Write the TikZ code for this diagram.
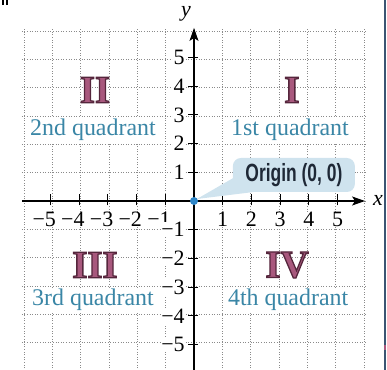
\documentclass[tikz,border=0pt]{standalone}
\usepackage{fontspec}
\usepackage{graphicx}
\setmainfont{Liberation Serif}
\newfontfamily\calloutfont{Liberation Sans}
\usetikzlibrary{arrows.meta,calc}
\definecolor{mauve}{HTML}{A8587D}
\definecolor{quadblue}{HTML}{3A86A6}
\definecolor{boxblue}{HTML}{CFE3EE}
\definecolor{dotblue}{HTML}{2E86C8}
\definecolor{edgeblue}{HTML}{3B5573}
\definecolor{gridgray}{HTML}{8A8A8A}
\definecolor{calloutink}{HTML}{1E2836}
\newcommand\romanout[1]{\special{pdf:literal direct 2 Tr 1.3 w 0.333 0.149 0.235 RG}#1\special{pdf:literal direct 0 Tr}}
\begin{document}
\begin{tikzpicture}[x=28.7bp,y=28.7bp,
  gridline/.style={gridgray, line width=0.7bp, dash pattern=on 0.8bp off 1.8bp},
  axisline/.style={line width=1.1bp, -{Stealth[length=13bp,width=9bp,inset=3bp]}},
  tickline/.style={line width=0.9bp},
  ticklabel/.style={font=\fontsize{22}{22}\selectfont, fill=white, inner sep=0.5bp},
  quadlabel/.style={font=\fontsize{24}{24}\selectfont, text=quadblue, fill=white, inner sep=1bp},
  numeral/.style={font=\fontsize{39}{39}\selectfont\bfseries, text=mauve, inner sep=0pt},
  axislabel/.style={font=\fontsize{22}{22}\selectfont\itshape, inner sep=0pt},
  calloutbox/.style={fill=boxblue, rounded corners=8bp, minimum width=122bp, minimum height=34bp, inner sep=0pt,
     font=\calloutfont\bfseries\fontsize{25}{25}\selectfont, text=calloutink}]
\useasboundingbox (-6.7596,-5.8885) rectangle (6.7247,7.0035);
% grid
\begin{scope}
  \clip (-6.7596,-5.8885) rectangle (6.7247,7.0035);
  \draw[gridline] (-6,-6) grid (6,6);
\end{scope}
% axes
\coordinate (xstart) at (-6,0);
\coordinate (xend) at (5.96,0);
\coordinate (ystart) at (0,-5.9);
\coordinate (yend) at (0,6.03);
\draw[axisline] (xstart) -- (xend);
\draw[axisline] (ystart) -- (yend);
\node[axislabel] (xlab) at (6.41,0.03) {x};
\node[axislabel] (ylab) at (-0.28,6.52) {y};
% ticks
\foreach \i in {-5,...,-1,1,2,...,5} {
  \draw[tickline] (\i,-0.15) -- (\i,0.25);
  \draw[tickline] (-0.2,\i) -- (0.15,\i);
}
\foreach \i in {1,...,5} {
  \node[ticklabel, anchor=north] (xt\i) at (\i,-0.37) {\i};
  \node[ticklabel, anchor=east] (yt\i) at (-0.3,\i) {\i};
}
\foreach \i in {1,...,5} {
  \node[ticklabel, anchor=north] (xtm\i) at (-\i-0.22,-0.37) {−\i};
}
\foreach \i in {1,...,5} {
  \node[ticklabel, anchor=east] (ytm\i) at (-0.3,-\i) {−\i};
}
% quadrant labels
\node[quadlabel] (q2) at (-3.52,2.47) {2nd quadrant};
\node[quadlabel] (q1) at (3.345,2.47) {1st quadrant};
\node[quadlabel] (q3) at (-3.52,-3.45) {3rd quadrant};
\node[quadlabel] (q4) at (3.28,-3.45) {4th quadrant};
% roman numerals
\node[numeral] (n2) at (-3.45,3.87) {\romanout{II}};
\node[numeral] (n1) at (3.41,3.87) {\romanout{I}};
\node[numeral] (n3) at (-3.45,-2.23) {\romanout{III}};
\node[numeral] (n4) at (3.24,-2.23) {\romanout{IV}};
% origin callout
\coordinate (O) at (0,0);
\node[calloutbox] (box) at (3.48,0.906) {\scalebox{0.7}[1]{Origin (0, 0)}};
\fill[boxblue] ($(box.west)+(0.08,-0.07)$) -- ($(O)+(0.1,0.07)$) -- ($(box.south west)+(0.84,0.02)$) -- ($(box.south west)+(0.3,0.3)$) -- cycle;
\fill[dotblue] (O) circle (4bp);
% page edge artifacts
\draw[edgeblue, line width=1.5bp] (6.655,-5.8885) -- (6.655,7.0035);
\fill[mauve] (6.62,-5.02) rectangle (6.69,-5.19);
\fill[black] (-6.69,7.0035) rectangle (-6.62,6.83);
\fill[black] (-6.55,7.0035) rectangle (-6.48,6.83);
\end{tikzpicture}
\end{document}
